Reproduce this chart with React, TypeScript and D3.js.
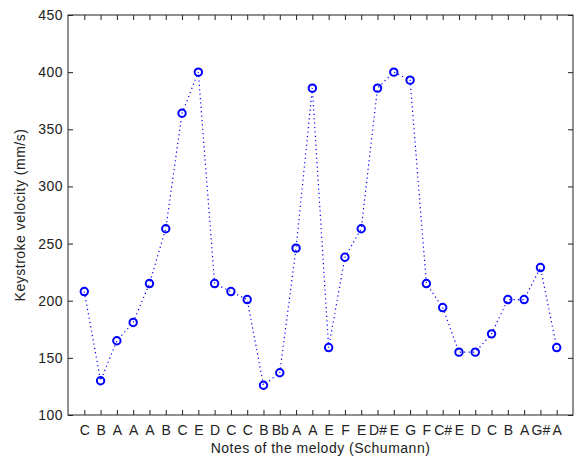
import React, { useRef, useEffect } from "react";
import * as d3 from "d3";

// notes of the melody, in order
const notes = ["C", "B", "A", "A", "A", "B", "C", "E", "D", "C", "C", "B", "Bb", "A", "A",
  "E", "F", "E", "D#", "E", "G", "F", "C#", "E", "D", "C", "B", "A", "G#", "A"];
// keystroke velocity (mm/s)
const velocity = [208, 130, 165, 181, 215, 263, 364, 400, 215, 208, 201, 126, 137, 246, 386,
  159, 238, 263, 386, 400, 393, 215, 194, 155, 155, 171, 201, 201, 229, 159];
const yTicks = [100, 150, 200, 250, 300, 350, 400, 450];

const App = () => {
  const ref = useRef<SVGSVGElement>(null);
  const width = 576;
  const height = 458;
  const left = 68, right = 573, top = 15, bottom = 415;

  useEffect(() => {
    const svg = d3.select(ref.current);
    svg.selectAll("*").remove();

    const x = d3.scaleLinear().domain([0, notes.length + 1]).range([left, right]);
    const y = d3.scaleLinear().domain([100, 450]).range([bottom, top]);
    const idx = d3.range(1, notes.length + 1);
    const font = "'Liberation Sans', Arial, sans-serif";
    const fs = "14px";
    const ls = "0.5px";

    // box
    svg.append("rect")
      .attr("x", left).attr("y", top)
      .attr("width", right - left).attr("height", bottom - top)
      .attr("fill", "white").attr("stroke", "#222").attr("stroke-width", 1);

    // x ticks (bottom and top, inward)
    const xAxis = d3.axisBottom(x).tickValues(idx).tickSizeInner(-5).tickSizeOuter(0)
      .tickFormat((d) => notes[(d as number) - 1]);
    const gx = svg.append("g").attr("transform", `translate(0,${bottom})`).call(xAxis);
    gx.select(".domain").remove();
    gx.selectAll("text").attr("dy", "1.05em").attr("y", 5)
      .style("font-family", font).style("font-size", fs).attr("fill", "#222");
    gx.selectAll("line").attr("stroke", "#222");

    const gxt = svg.append("g").attr("transform", `translate(0,${top})`)
      .call(d3.axisTop(x).tickValues(idx).tickSizeInner(-5).tickSizeOuter(0).tickFormat(() => ""));
    gxt.select(".domain").remove();
    gxt.selectAll("line").attr("stroke", "#222");

    // y ticks (left and right, inward)
    const gy = svg.append("g").attr("transform", `translate(${left},0)`)
      .call(d3.axisLeft(y).tickValues(yTicks).tickSizeInner(-5).tickSizeOuter(0));
    gy.select(".domain").remove();
    gy.selectAll("text").attr("x", -5)
      .style("font-family", font).style("font-size", fs).style("letter-spacing", ls).attr("fill", "#222");
    gy.selectAll("line").attr("stroke", "#222");

    const gyr = svg.append("g").attr("transform", `translate(${right},0)`)
      .call(d3.axisRight(y).tickValues(yTicks).tickSizeInner(-5).tickSizeOuter(0).tickFormat(() => ""));
    gyr.select(".domain").remove();
    gyr.selectAll("line").attr("stroke", "#222");

    // dotted line
    const line = d3.line<number>()
      .x((d, i) => x(i + 1))
      .y((d) => y(d));
    svg.append("path")
      .datum(velocity)
      .attr("d", line)
      .attr("fill", "none")
      .attr("stroke", "blue")
      .attr("stroke-width", 1.2)
      .attr("stroke-dasharray", "1.2 3.2");

    // markers
    svg.selectAll("circle.pt")
      .data(velocity)
      .enter()
      .append("circle")
      .attr("class", "pt")
      .attr("cx", (d, i) => x(i + 1))
      .attr("cy", (d) => y(d))
      .attr("r", 3.7)
      .attr("fill", "none")
      .attr("stroke", "blue")
      .attr("stroke-width", 2);

    // labels
    svg.append("text")
      .attr("x", (left + right) / 2).attr("y", 453)
      .attr("text-anchor", "middle")
      .style("font-family", font).style("font-size", fs).style("letter-spacing", ls).attr("fill", "#222")
      .text("Notes of the melody (Schumann)");

    svg.append("text")
      .attr("transform", `translate(25,${(top + bottom) / 2}) rotate(-90)`)
      .attr("text-anchor", "middle")
      .style("font-family", font).style("font-size", fs).style("letter-spacing", ls).attr("fill", "#222")
      .text("Keystroke velocity (mm/s)");
  }, []);

  return (
    <svg ref={ref} width={width} height={height}
      style={{ position: "absolute", left: 0, top: 0, background: "white" }}></svg>
  );
};

export default App;
